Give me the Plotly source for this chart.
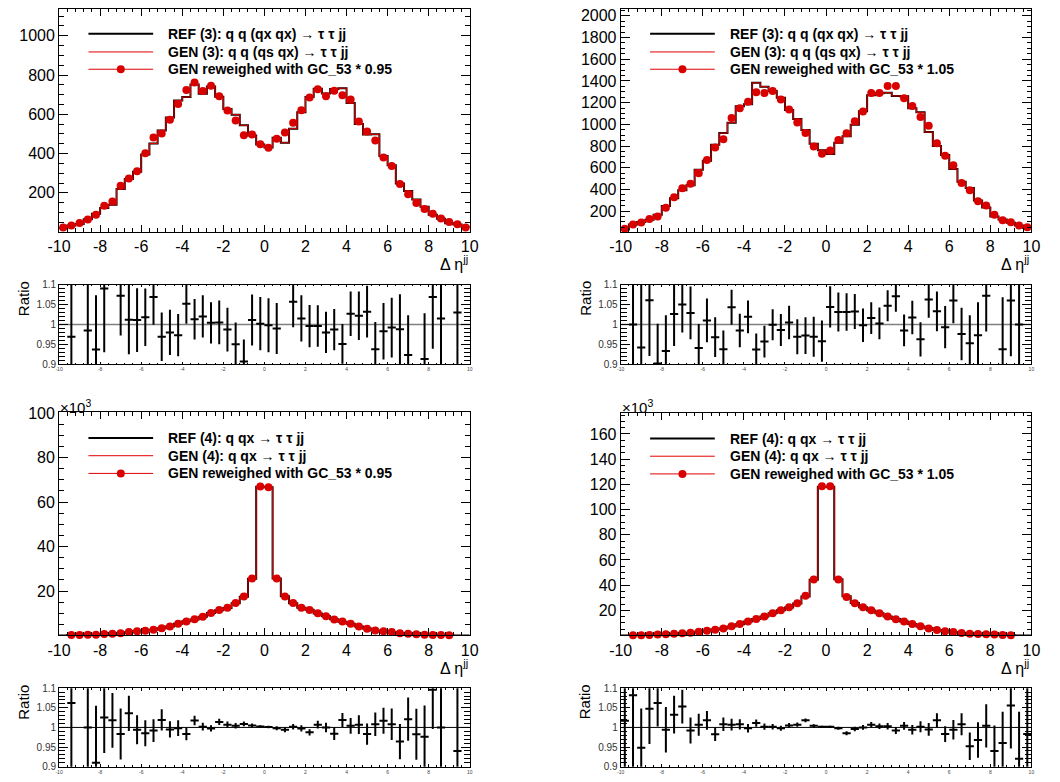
import numpy as np
import plotly.graph_objects as go

W, H = 1060, 782
FONT = "Liberation Sans, Arial, Helvetica, sans-serif"
RED = "#d90000"

# ---------------- data ----------------
bin_edges = np.linspace(-10, 10, 51)
bin_centers = 0.5 * (bin_edges[:-1] + bin_edges[1:])
half_bin = 0.5 * (bin_edges[1] - bin_edges[0])

x_tick_vals = [-10, -8, -6, -4, -2, 0, 2, 4, 6, 8, 10]
x_tick_text = ["-10", "-8", "-6", "-4", "-2", "0", "2", "4", "6", "8", "10"]
ratio_tick_vals = [0.9, 0.95, 1.0, 1.05, 1.1]
ratio_tick_text = ["0.9", "0.95", "1", "1.05", "1.1"]

# Panel A: (3) GC_53 * 0.95
ref_A = [20, 34.1, 41, 65, 93.9, 123, 139, 220, 270, 307, 395, 451, 518, 584, 670, 688, 752, 705, 742, 689,
         627, 598, 544, 492, 446, 431, 480, 455, 527, 611, 688, 730, 706, 729, 733, 657, 551, 497, 498, 387,
         340, 248, 209, 166, 129, 88, 68, 45, 38.8, 27]
gen_A = ref_A
rew_A = [24, 33, 46, 64, 88, 134, 156, 236, 273, 310, 402, 482, 502, 572, 652, 724, 762, 719, 745, 692,
         619, 568, 493, 497, 447, 430, 475, 507, 557, 620, 685, 727, 692, 720, 697, 675, 563, 513, 467, 380,
         337, 245, 193, 148, 118, 94, 69, 51, 40, 24]
ratio_A = [None, 0.969, None, 0.985, 0.937, 1.09, None, 1.072, 1.012, 1.011, 1.018, 1.069, 0.969, 0.98, 0.973,
           1.052, 1.013, 1.02, 1.004, 1.005, 0.987, 0.95, 0.907, 1.011, 1.002, 0.998, 0.99, None, 1.057, 1.015,
           0.996, 0.996, 0.98, 0.987, 0.951, 1.027, 1.022, 1.032, 0.938, 0.983, 0.992, 0.988, 0.923, None,
           0.913, 1.069, 1.015, None, 1.03, None]
err_A = [0.3, 0.25, 0.3, 0.18, 0.136, 0.16, 0.12, 0.1, 0.087, 0.08, 0.072, 0.07, 0.061, 0.057, 0.053, 0.05,
         0.051, 0.053, 0.052, 0.055, 0.055, 0.055, 0.055, 0.064, 0.067, 0.068, 0.064, 0.063, 0.064, 0.058,
         0.053, 0.052, 0.052, 0.052, 0.05, 0.056, 0.061, 0.065, 0.068, 0.071, 0.075, 0.088, 0.1, 0.11, 0.115,
         0.13, 0.2, 0.2, 0.25, 0.3]

# Panel B: (3) GC_53 * 1.05
ref_B = [30, 76, 100, 120, 167, 246, 319, 391, 438, 582, 665, 812, 919, 1015, 1166, 1184, 1382, 1347, 1308,
         1245, 1131, 1049, 947, 821, 761, 727, 830, 889, 997, 1121, 1269, 1286, 1291, 1262, 1259, 1148, 1110,
         928, 800, 716, 588, 471, 412, 298, 234, 150, 123, 91.5, 67, 45]
gen_B = ref_B
rew_B = [37, 76, 94, 127, 151, 230, 327, 411, 451, 548, 672, 786, 862, 1059, 1149, 1207, 1295, 1289, 1307,
         1228, 1137, 1016, 920, 796, 729, 759, 856, 917, 1029, 1119, 1289, 1289, 1352, 1352, 1240, 1168, 1068,
         986, 826, 711, 623, 460, 393, 290, 251, 166, 115, 97, 67, 52]
ratio_B = [None, 1.0, 0.942, 1.061, 0.902, 0.933, 1.026, 1.05, 1.029, 0.941, 1.01, 0.968, 0.938, 1.043, 0.985,
           1.019, 0.937, 0.957, 0.999, 0.986, 1.005, 0.969, 0.972, 0.969, 0.958, 1.044, 1.031, 1.031, 1.0325,
           0.998, 1.016, 1.0025, 1.047, 1.071, 0.985, 1.0175, 0.9625, 1.0625, 1.033, 0.993, 1.06, 0.976, 0.953,
           0.973, 1.072, None, 0.938, 1.06, 1.0, None]
err_B = [0.3, 0.2, 0.16, 0.14, 0.1, 0.09, 0.08, 0.07, 0.066, 0.06, 0.055, 0.05, 0.047, 0.044, 0.042, 0.041,
         0.04, 0.04, 0.039, 0.04, 0.042, 0.044, 0.046, 0.05, 0.052, 0.052, 0.049, 0.047, 0.044, 0.042, 0.04,
         0.04, 0.039, 0.039, 0.04, 0.042, 0.043, 0.046, 0.05, 0.053, 0.057, 0.066, 0.07, 0.083, 0.09, 0.11,
         0.13, 0.14, 0.17, 0.2]

# Panel C: (4) GC_53 * 0.95  (values in thousands)
ref_C = [0.05, 0.235, 0.28, 0.4, 0.44, 0.68, 0.835, 1.12, 1.545, 2.01, 2.23, 2.62, 3.24, 4.12, 5.31, 6.41,
         7.17, 8.48, 10.13, 11.34, 12.41, 14.54, 17.44, 25.57, 66.83, 66.63, 25.65, 17.71, 14.58, 12.53, 11.65,
         9.93, 8.7, 7.32, 6.18, 5.28, 4.07, 3.15, 2.28, 1.97, 1.59, 1.14, 0.83, 0.56, 0.41, 0.23, 0.25, 0.12,
         0.085, 0.03]
gen_C = ref_C
rew_C = [0.05, 0.25, 0.25, 0.4, 0.4, 0.7, 0.85, 1.1, 1.6, 2.0, 2.2, 2.6, 3.3, 4.1, 5.3, 6.3, 7.3, 8.5, 10.1,
         11.5, 12.5, 14.6, 17.6, 25.7, 67.0, 66.7, 25.6, 17.6, 14.6, 12.5, 11.5, 10.0, 8.7, 7.2, 6.3, 5.3, 4.1,
         3.1, 2.3, 2.0, 1.6, 1.1, 0.85, 0.55, 0.4, 0.25, 0.25, 0.1, 0.08, 0.02]
ratio_C = [None, 1.0625, None, 1.0, 0.91, 1.025, 1.018, 0.983, 1.036, 0.994, 0.985, 0.992, 1.019, 0.995, 0.998,
           0.983, 1.0175, 1.002, 0.9975, 1.014, 1.007, 1.004, 1.009, 1.005, 1.0025, 1.001, 0.998, 0.994, 1.0015,
           0.9975, 0.9875, 1.007, 1.0, 0.984, 1.019, 1.004, 1.007, 0.983, 1.008, 1.017, 1.008, 0.964, 1.021,
           0.9825, 0.976, 1.096, 1.0, None, 0.94, None]
err_C = [0.3, 0.3, 0.3, 0.3, 0.145, 0.09, 0.07, 0.065, 0.045, 0.037, 0.033, 0.029, 0.027, 0.021, 0.02, 0.016,
         0.012, 0.01, 0.008, 0.008, 0.008, 0.007, 0.006, 0.005, 0.003, 0.003, 0.005, 0.006, 0.007, 0.008, 0.008,
         0.01, 0.012, 0.016, 0.018, 0.02, 0.024, 0.027, 0.03, 0.033, 0.04, 0.045, 0.055, 0.065, 0.08, 0.1, 0.3,
         0.3, 0.3, 0.3]

# Panel D: (4) GC_53 * 1.05  (values in thousands)
ref_D = [0.098, 0.231, 0.264, 0.477, 0.706, 1.006, 1.453, 1.709, 2.319, 3.078, 3.831, 4.784, 5.655, 7.249,
         9.028, 11.222, 13.056, 15.07, 17.665, 20.04, 22.289, 25.521, 30.943, 44.323, 118.16, 118.16, 44.589,
         31.168, 25.803, 22.4, 19.861, 17.647, 15.055, 13.105, 11.155, 9.155, 7.285, 5.729, 4.322, 3.459,
         2.817, 2.083, 1.576, 1.343, 0.996, 0.798, 0.521, 0.237, 0.13, 0.081]
gen_D = ref_D
rew_D = [0.1, 0.25, 0.25, 0.5, 0.75, 1.0, 1.5, 1.8, 2.3, 3.1, 3.9, 4.7, 5.7, 7.3, 9.1, 11.2, 13.2, 15.1, 17.7,
         20.0, 22.4, 25.7, 31.5, 44.5, 118.4, 118.4, 44.5, 30.7, 25.7, 22.4, 20.0, 17.7, 15.1, 13.0, 11.2, 9.1,
         7.3, 5.7, 4.4, 3.4, 2.8, 2.1, 1.5, 1.3, 1.0, 0.75, 0.5, 0.25, 0.12, 0.08]
ratio_D = [1.017, 1.082, 0.948, 1.0475, 1.0625, 0.994, 1.0325, 1.053, 0.992, 1.007, 1.018, 0.9825, 1.008, 1.007,
           1.008, 0.998, 1.011, 1.002, 1.002, 0.998, 1.005, 1.007, 1.018, 1.004, 1.002, 1.002, 0.998, 0.985,
           0.996, 1.0, 1.007, 1.003, 1.003, 0.992, 1.004, 0.994, 1.002, 0.995, 1.018, 0.983, 0.994, 1.008, 0.952,
           0.968, 1.004, 0.94, 0.96, 1.056, 0.92, 0.983]
err_D = [0.3, 0.2, 0.1, 0.09, 0.06, 0.058, 0.048, 0.043, 0.033, 0.028, 0.024, 0.017, 0.017, 0.015, 0.013, 0.011,
         0.009, 0.008, 0.007, 0.0065, 0.006, 0.0055, 0.005, 0.004, 0.0025, 0.0025, 0.004, 0.005, 0.0055, 0.006,
         0.0065, 0.007, 0.008, 0.009, 0.01, 0.012, 0.014, 0.016, 0.018, 0.02, 0.025, 0.028, 0.035, 0.045, 0.055,
         0.065, 0.08, 0.11, 0.12, 0.18]

ARROW = "\u00a0\u2192\u00a0"
legend_A = ["REF (3): q q (qx qx)" + ARROW + "\u03c4 \u03c4 jj", "GEN (3): q q (qs qx)" + ARROW + "\u03c4 \u03c4 jj",
            "GEN reweighed with GC_53 * 0.95"]
legend_B = ["REF (3): q q (qx qx)" + ARROW + "\u03c4 \u03c4 jj", "GEN (3): q q (qs qx)" + ARROW + "\u03c4 \u03c4 jj",
            "GEN reweighed with GC_53 * 1.05"]
legend_C = ["REF (4): q qx" + ARROW + "\u03c4 \u03c4 jj", "GEN (4): q qx" + ARROW + "\u03c4 \u03c4 jj",
            "GEN reweighed with GC_53 * 0.95"]
legend_D = ["REF (4): q qx" + ARROW + "\u03c4 \u03c4 jj", "GEN (4): q qx" + ARROW + "\u03c4 \u03c4 jj",
            "GEN reweighed with GC_53 * 1.05"]

# ---------------- layout geometry (pixels) ----------------
def px(x):
    return x / W

def py(y):
    return 1 - y / H

LEFT = (48, 467)
RIGHT = (621, 1040)

panels = [
    dict(ref=ref_A, gen=gen_A, rew=rew_A, ratio=ratio_A, err=err_A, leg=legend_A, xs=LEFT,
         main_y=(1.7, 228.5), ratio_y=(282.3, 363.3), yr=[2, 1138], ymin_dt=50,
         yticks=[200, 400, 600, 800, 1000], exp=False, one_col="#808080", one_w=1.6),
    dict(ref=ref_B, gen=gen_B, rew=rew_B, ratio=ratio_B, err=err_B, leg=legend_B, xs=RIGHT,
         main_y=(1.7, 228.5), ratio_y=(282.3, 363.3), yr=[10, 2066], ymin_dt=50,
         yticks=[200, 400, 600, 800, 1000, 1200, 1400, 1600, 1800, 2000], exp=False, one_col="#808080", one_w=1.6),
    dict(ref=ref_C, gen=gen_C, rew=rew_C, ratio=ratio_C, err=err_C, leg=legend_C, xs=LEFT,
         main_y=(412, 639), ratio_y=(692.7, 772.5), yr=[0.09, 100.4], ymin_dt=5,
         yticks=[20, 40, 60, 80, 100], exp=True, one_col="black", one_w=1),
    dict(ref=ref_D, gen=gen_D, rew=rew_D, ratio=ratio_D, err=err_D, leg=legend_D, xs=RIGHT,
         main_y=(412.5, 639), ratio_y=(692.7, 772.5), yr=[0.15, 176.9], ymin_dt=5,
         yticks=[20, 40, 60, 80, 100, 120, 140, 160], exp=True, one_col="black", one_w=1),
]

fig = go.Figure()
layout = dict(width=W, height=H, margin=dict(l=0, r=0, t=0, b=0, pad=0), autosize=False,
              paper_bgcolor="white", plot_bgcolor="white", showlegend=False,
              font=dict(family=FONT, color="black"))
shapes = []
annotations = []


def x_axis(domain, anchor, tl, ml, fs, fcol="black"):
    return dict(domain=domain, anchor=anchor, range=[-10, 10], showline=True, linecolor="black",
                linewidth=1, mirror="allticks", ticks="inside", ticklen=tl, tickwidth=1, tickcolor="black",
                tickmode="array", tickvals=x_tick_vals, ticktext=x_tick_text,
                tickfont=dict(size=fs, family=FONT, color=fcol), showgrid=False, zeroline=False,
                minor=dict(dtick=0.4, tick0=-10, ticks="inside", ticklen=ml, tickwidth=1,
                           tickcolor="black", showgrid=False))


def y_axis(domain, anchor, rng, tvals, ttext, tl, ml, mdt, fs, fcol="black"):
    return dict(domain=domain, anchor=anchor, range=rng, showline=True, linecolor="black", linewidth=1,
                mirror="allticks", ticks="inside", ticklen=tl, tickwidth=1, tickcolor="black",
                tickmode="array", tickvals=tvals, ticktext=ttext,
                tickfont=dict(size=fs, family=FONT, color=fcol), showgrid=False, zeroline=False,
                minor=dict(dtick=mdt, tick0=0, ticks="inside", ticklen=ml, tickwidth=1,
                           tickcolor="black", showgrid=False))


for i, p in enumerate(panels):
    nm = 2 * i + 1
    nr = 2 * i + 2
    xm, ym = f"x{nm}", f"y{nm}"
    xr, yr_ = f"x{nr}", f"y{nr}"
    xdom = [px(p["xs"][0]), px(p["xs"][1])]
    mdom = [py(p["main_y"][1]), py(p["main_y"][0])]
    rdom = [py(p["ratio_y"][1]), py(p["ratio_y"][0])]

    sfx_m = "" if nm == 1 else str(nm)
    layout[f"xaxis{sfx_m}"] = x_axis(xdom, ym, 7, 3.5, 16)
    layout[f"yaxis{sfx_m}"] = y_axis(mdom, xm, p["yr"], p["yticks"], [str(v) for v in p["yticks"]],
                                     9, 4.5, p["ymin_dt"], 16)
    layout[f"xaxis{nr}"] = x_axis(xdom, yr_, 2.5, 1.5, 5, "#444444")
    layout[f"yaxis{nr}"] = y_axis(rdom, xr, [0.9, 1.1], ratio_tick_vals, ratio_tick_text, 9, 6, 0.01, 10,
                                  "#333333")

    # main histograms (step lines from bin edges)
    ref_y = list(p["ref"]) + [p["ref"][-1]]
    gen_y = list(p["gen"]) + [p["gen"][-1]]
    fig.add_trace(go.Scatter(x=list(bin_edges), y=ref_y, mode="lines", xaxis=xm, yaxis=ym,
                             line=dict(color="black", width=2, shape="hv"), hoverinfo="skip"))
    fig.add_trace(go.Scatter(x=list(bin_edges), y=gen_y, mode="lines", xaxis=xm, yaxis=ym,
                             line=dict(color="#e00000", width=1, shape="hv"), hoverinfo="skip"))
    # reweighted points (not drawn below axis minimum, as in ROOT)
    ymin = p["yr"][0]
    pxs = [c for c, v in zip(bin_centers, p["rew"]) if v is not None and v >= ymin]
    pys = [v for v in p["rew"] if v is not None and v >= ymin]
    fig.add_trace(go.Scatter(x=pxs, y=pys, mode="markers", xaxis=xm, yaxis=ym, cliponaxis=False,
                             marker=dict(color=RED, size=8, line=dict(width=0))))

    # ratio panel
    rx = [c for c, v in zip(bin_centers, p["ratio"]) if v is not None]
    ry = [v for v in p["ratio"] if v is not None]
    re = [e for e, v in zip(p["err"], p["ratio"]) if v is not None]
    shapes.append(dict(type="line", xref=xr, yref=yr_, x0=-10, x1=10, y0=1, y1=1,
                       line=dict(color=p["one_col"], width=p["one_w"]), layer="below"))
    fig.add_trace(go.Scatter(x=rx, y=ry, mode="markers", xaxis=xr, yaxis=yr_,
                             marker=dict(color="black", size=1),
                             error_y=dict(type="data", array=re, color="black", thickness=2, width=0),
                             error_x=dict(type="data", array=[half_bin] * len(rx), color="black",
                                          thickness=2, width=0)))

    # axis title and Ratio label
    annotations.append(dict(xref="paper", yref="paper", x=px(p["xs"][1]), y=py(p["main_y"][1] + 32),
                            xanchor="right", yanchor="middle", showarrow=False,
                            text="\u0394 \u03b7<sup>jj</sup>", font=dict(size=16, family=FONT)))
    annotations.append(dict(xref="paper", yref="paper", x=px(p["xs"][0] - 36), y=py(p["ratio_y"][0] + 14),
                            xanchor="center", yanchor="middle", showarrow=False, textangle=-90,
                            text="Ratio", font=dict(size=15, family=FONT)))
    if p["exp"]:
        annotations.append(dict(xref="paper", yref="paper", x=px(p["xs"][0] - 1), y=py(p["main_y"][0] - 6),
                                xanchor="left", yanchor="middle", showarrow=False,
                                text="\u00d710<sup>3</sup>", font=dict(size=15, family=FONT)))

    # legend (drawn manually, ROOT TLegend style)
    lx0 = p["xs"][0] + 30
    lx1 = lx0 + 66
    if p["exp"]:
        rows = [p["main_y"][0] + 26.3, p["main_y"][0] + 44.3, p["main_y"][0] + 62.3]
    else:
        rows = [p["main_y"][0] + 25.6, p["main_y"][0] + 44, p["main_y"][0] + 61.6]
    styles = [("black", 2), ("#e00000", 1), ("#e00000", 1)]
    for (col, w), ry0, txt in zip(styles, rows, p["leg"]):
        shapes.append(dict(type="line", xref="paper", yref="paper", x0=px(lx0), x1=px(lx1),
                           y0=py(ry0), y1=py(ry0), line=dict(color=col, width=w)))
        annotations.append(dict(xref="paper", yref="paper", x=px(lx1 + 13), y=py(ry0), xanchor="left",
                                yanchor="middle", showarrow=False, text=txt,
                                font=dict(size=14, family=FONT, weight="bold")))
    shapes.append(dict(type="circle", xref="paper", yref="paper", xsizemode="pixel", ysizemode="pixel",
                       xanchor=px((lx0 + lx1) / 2), yanchor=py(rows[2]), x0=-4, x1=4, y0=-4, y1=4,
                       fillcolor=RED, line=dict(width=0)))

layout["shapes"] = shapes
layout["annotations"] = annotations
fig.update_layout(**layout)
fig.write_html("out.html", config=dict(displayModeBar=False, staticPlot=True),
               post_script="document.body.style.margin='0';document.body.style.padding='0';"
                           "document.documentElement.style.overflow='hidden';")
